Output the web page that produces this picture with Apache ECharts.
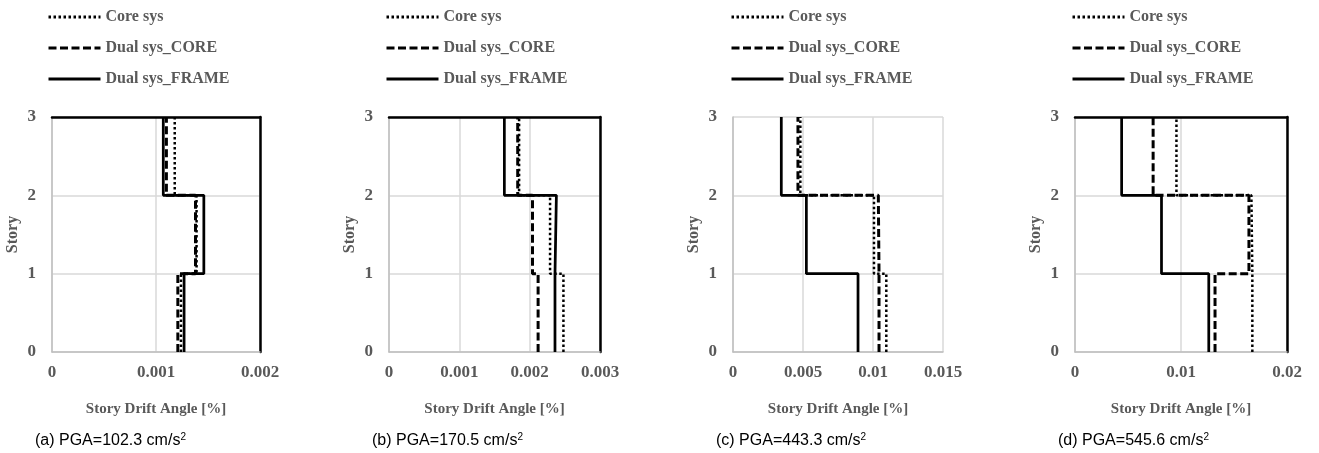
<!DOCTYPE html>
<html>
<head>
<meta charset="utf-8">
<script src="https://cdn.jsdelivr.net/npm/echarts@6/dist/echarts.min.js"></script>
<style>
  html, body { margin: 0; padding: 0; background: #fff; }
  #container { width: 1319px; height: 453px; }
</style>
</head>
<body>
<div id="container"></div>
<script>
// story levels (segment i spans stories[i] .. stories[i+1])
var stories = [0, 1, 2, 3];
var seriesNames = ['Core sys', 'Dual sys_CORE', 'Dual sys_FRAME'];
var captionLabels = ['(a)', '(b)', '(c)', '(d)'];
var pgaValues = ['102.3', '170.5', '443.3', '545.6'];

// drift per story (1F, 2F, 3F)
var coreA = [0.00124, 0.00139, 0.00118];
var dualCoreA = [0.00121, 0.00138, 0.00110];
var dualFrameA = [0.00127, 0.00146, 0.00107];

var coreB = [0.00248, 0.00229, 0.00185];
var dualCoreB = [0.00212, 0.00204, 0.00183];
var dualFrameB = [0.00236, 0.00238, 0.00164];

var coreC = [0.01095, 0.01007, 0.00481];
var dualCoreC = [0.01043, 0.01038, 0.00464];
var dualFrameC = [0.00893, 0.00524, 0.00345];

var coreD = [0.01673, 0.01664, 0.00957];
var dualCoreD = [0.01321, 0.01641, 0.00737];
var dualFrameD = [0.01262, 0.00816, 0.00440];

// x axis ranges
var xMax = [0.002, 0.003, 0.015, 0.02];
var xStep = [0.001, 0.001, 0.005, 0.01];

var panels = [
    [coreA, dualCoreA, dualFrameA],
    [coreB, dualCoreB, dualFrameB],
    [coreC, dualCoreC, dualFrameC],
    [coreD, dualCoreD, dualFrameD]
];

// layout
var gridLeft = [52, 389, 733, 1075];
var gridWidth = [208, 211, 210, 212];
var legendLeft = [42, 380, 725, 1066];
var hasFrame = [true, true, false, true];

function steps(vals) {
    var pts = [];
    vals.forEach(function (v, i) {
        pts.push([v, stories[i]]);
        pts.push([v, stories[i + 1]]);
    });
    return pts;
}

var labelColor = '#595959';
var serif = '"Liberation Serif", "Times New Roman", serif';
var sans = '"Liberation Sans", Arial, sans-serif';

var lineStyles = [
    { color: '#000', width: 2.5, type: [2.5, 2.5] },
    { color: '#000', width: 3, type: [8, 3.5] },
    { color: '#000', width: 2.75, type: 'solid' }
];

var grid = [], xAxis = [], yAxis = [], series = [], legend = [], title = [];

panels.forEach(function (p, k) {
    grid.push({ left: gridLeft[k], top: 117, width: gridWidth[k], height: 235 });
    xAxis.push({
        type: 'value', gridIndex: k, min: 0, max: xMax[k], interval: xStep[k],
        name: 'Story Drift Angle [%]', nameLocation: 'middle', nameGap: 50,
        nameTextStyle: { fontFamily: serif, fontWeight: 'bold', fontSize: 15, color: labelColor },
        axisLine: { lineStyle: { color: '#bfbfbf', width: 1.5 } },
        axisTick: { show: false },
        axisLabel: {
            fontFamily: serif, fontWeight: 'bold', fontSize: 17, color: labelColor, margin: 12,
            formatter: function (v) { return String(+v.toFixed(4)); }
        },
        splitLine: { lineStyle: { color: '#d9d9d9', width: 1.5 } }
    });
    yAxis.push({
        type: 'value', gridIndex: k, min: 0, max: 3, interval: 1,
        name: 'Story', nameLocation: 'middle', nameGap: 31,
        nameTextStyle: { fontFamily: serif, fontWeight: 'bold', fontSize: 16, color: labelColor },
        axisLine: { show: true, lineStyle: { color: '#bfbfbf', width: 1.5 } },
        axisTick: { show: false },
        axisLabel: { fontFamily: serif, fontWeight: 'bold', fontSize: 17, color: labelColor, margin: 16 },
        splitLine: { lineStyle: { color: '#d9d9d9', width: 1.5 } }
    });
    p.forEach(function (vals, s) {
        series.push({
            name: seriesNames[s], type: 'line', xAxisIndex: k, yAxisIndex: k,
            data: steps(vals), symbol: 'none', silent: true,
            lineStyle: lineStyles[s], itemStyle: { color: '#000' },
            z: 3 + s
        });
    });
    legend.push({
        data: seriesNames, orient: 'vertical', left: legendLeft[k], top: 4,
        itemWidth: 52, itemHeight: 14, itemGap: 15,
        itemStyle: { opacity: 0 },   // hide the marker dot, keep the line sample
        lineStyle: { width: 3 },
        textStyle: { fontFamily: serif, fontWeight: 'bold', fontSize: 16, color: labelColor }
    });
    title.push({
        text: '{m|' + captionLabels[k] + ' PGA=' + pgaValues[k] + ' cm/s}{sup|2}',
        left: gridLeft[k] - 22, top: 427,
        textStyle: {
            fontWeight: 'normal',
            rich: {
                m: { fontFamily: sans, fontWeight: 'normal', fontSize: 16, lineHeight: 17, color: '#000', verticalAlign: 'bottom' },
                sup: { fontFamily: sans, fontWeight: 'normal', fontSize: 10, lineHeight: 10, color: '#000', verticalAlign: 'bottom', padding: [0, 0, 7, 0] }
            }
        }
    });
});

// black top / right border lines on panels a, b, d
panels.forEach(function (p, k) {
    if (!hasFrame[k]) return;
    xAxis.push({
        type: 'value', gridIndex: k, position: 'top', min: 0, max: xMax[k],
        axisLine: { show: true, onZero: false, lineStyle: { color: '#000', width: 2.5 } },
        axisTick: { show: false }, axisLabel: { show: false }, splitLine: { show: false }
    });
    yAxis.push({
        type: 'value', gridIndex: k, position: 'right', min: 0, max: 3,
        axisLine: { show: true, onZero: false, lineStyle: { color: '#000', width: 2.5 } },
        axisTick: { show: false }, axisLabel: { show: false }, splitLine: { show: false }
    });
});

var dom = document.getElementById('container');
var myChart = echarts.init(dom);
var option = {
    animation: false,
    backgroundColor: '#fff',
    title: title,
    legend: legend,
    grid: grid,
    xAxis: xAxis,
    yAxis: yAxis,
    series: series
};
myChart.setOption(option, true);
</script>
</body>
</html>
